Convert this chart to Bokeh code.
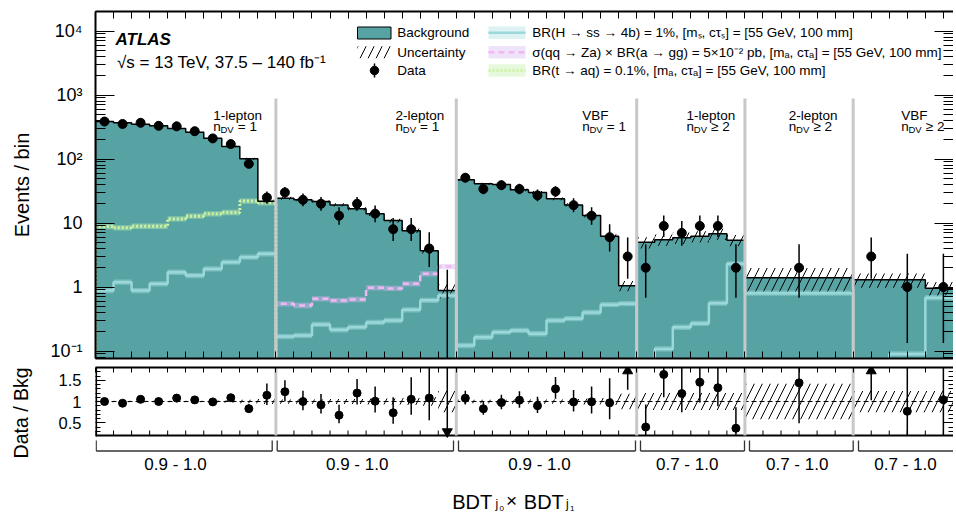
import math
from bokeh.plotting import figure
from bokeh.layouts import column
from bokeh.models import Range1d, LinearAxis, LogAxis, FixedTicker, LinearScale
from bokeh.embed import file_html
from bokeh.resources import INLINE
from bokeh.core.properties import value

# ---------------- data ----------------
region_names = ["1-lepton", "2-lepton", "VBF", "1-lepton", "2-lepton", "VBF"]
region_ndv = ["= 1", "= 1", "= 1", "≥ 2", "≥ 2", "≥ 2"]
region_bdt = ["0.9 - 1.0", "0.9 - 1.0", "0.9 - 1.0", "0.7 - 1.0", "0.7 - 1.0", "0.7 - 1.0"]
region_width = [10, 10, 10, 6, 6, 6]      # width of each region in tick units
region_nbins = [10, 10, 10, 6, 1, 3]      # bins per region

background = [
    385, 368, 350, 330, 300, 262, 212, 157, 101, 21.8,        # 1-lepton nDV=1
    24.4, 23.0, 21.7, 19.2, 16.7, 13.9, 10.9, 7.6, 3.7, 0.88,  # 2-lepton nDV=1
    47.3, 41.0, 40.0, 33.0, 30.0, 23.9, 19.2, 13.1, 6.2, 1.05, # VBF nDV=1
    5.0, 5.5, 5.9, 6.2, 6.8, 5.4,                              # 1-lepton nDV>=2
    1.39,                                                      # 2-lepton nDV>=2
    1.30, 1.30, 0.96,                                          # VBF nDV>=2
]
data_counts = [
    385, 353, 368, 330, 324, 272, 210, 171, 84, 25,
    30, 23, 20, 13, 20, 14, 8, 8, 4, 0,
    51, 34, 39, 34, 27, 31, 19, 13, 6, 3,
    2, 9, 7, 9, 9, 2,
    2,
    3, 1, 1,
]
bkg_rel_unc = [
    0.02, 0.02, 0.02, 0.02, 0.02, 0.02, 0.025, 0.03, 0.04, 0.06,
    0.05, 0.05, 0.05, 0.06, 0.06, 0.07, 0.07, 0.08, 0.10, 0.25,
    0.04, 0.04, 0.04, 0.05, 0.05, 0.05, 0.06, 0.07, 0.08, 0.18,
    0.20, 0.20, 0.20, 0.20, 0.20, 0.20,
    0.42,
    0.25, 0.25, 0.25,
]
sig_hss = [
    0.88, 1.19, 0.88, 1.12, 1.70, 1.51, 1.92, 2.44, 2.93, 3.3,
    0.168, 0.175, 0.26, 0.214, 0.236, 0.28, 0.30, 0.44, 0.62, 0.74,
    0.122, 0.164, 0.197, 0.21, 0.186, 0.30, 0.32, 0.40, 0.53, 0.55,
    0.05, 0.108, 0.235, 0.27, 0.56, 2.3,
    0.80,
    0.05, 0.09, 0.68,
]
sig_zagg_region = 1   # only present in 2-lepton nDV=1
sig_zagg = [0.546, 0.514, 0.653, 0.615, 0.638, 0.97, 0.95, 1.12, 1.61, 2.09]
sig_taq_region = 0    # only present in 1-lepton nDV=1
sig_taq = [8.8, 8.4, 8.9, 8.9, 11.6, 12.8, 13.9, 14.6, 22.0, 20.7]
sig_rel_unc = 0.10

y_major = [0.1, 1, 10, 100, 1000, 10000]
y_major_labels = {0.1: "10⁻¹", 1: "1", 10: "10", 100: "10²", 1000: "10³", 10000: "10⁴"}
r_major = [0.5, 1, 1.5]
r_major_labels = {0.5: "0.5", 1: "1", 1.5: "1.5"}

legend_left = ["Background", "Uncertainty", "Data"]
legend_right = [
    "BR(H → ss → 4b) = 1%, [mₛ, cτₛ] = [55 GeV, 100 mm]",
    "σ(qq → Za) × BR(a → gg) = 5×10⁻² pb, [mₐ, cτₐ] = [55 GeV, 100 mm]",
    "BR(t → aq) = 0.1%, [mₐ, cτₐ] = [55 GeV, 100 mm]",
]

# ---------------- layout / style ----------------
FONT = "Liberation Sans"
TEAL = "#57a3a4"
H_LINE, H_BAND = "#9ad8da", "#a8dfe0"
Z_LINE, Z_BAND = "#f2b6f2", "#d6b8f0"
T_LINE, T_BAND = "#cdf2a2", "#c2efa8"
SEP = "#c8c8c8"
HATCH = 16

PX_UNIT = 18.04
FRAME_X0 = 95
FRAME_W = 858
X_END = FRAME_W / PX_UNIT
MAIN_Y0, MAIN_Y1 = 11, 358
RATIO_Y0, RATIO_Y1 = 367, 435
PAGE_Y1 = 512
Y_MIN, Y_MAX = 0.0764, 20180
R_MIN, R_MAX = 0.2, 1.8
R_PX = (RATIO_Y1 - RATIO_Y0) / (R_MAX - R_MIN)
R_BOT = R_MIN - (PAGE_Y1 - RATIO_Y1) / R_PX    # lower panel frame reaches page bottom
FLOOR = 1e-3

# ---------------- derived bin geometry ----------------
bin_lo, bin_hi, region_start = [], [], []
s = 0.0
for w, n in zip(region_width, region_nbins):
    region_start.append(s)
    bw = w / n
    for k in range(n):
        bin_lo.append(s + k * bw)
        bin_hi.append(s + (k + 1) * bw)
    s += w
X_TOTAL = s
region_end = [a + w for a, w in zip(region_start, region_width)]
bin_mid = [(a + b) / 2 for a, b in zip(bin_lo, bin_hi)]
first_bin = [sum(region_nbins[:i]) for i in range(len(region_nbins))]
boundaries = region_end[:-1]
x_ticks = list(range(0, int(X_TOTAL) + 1))


def steps(lo, hi, vals, floor=FLOOR):
    xs, ys = [lo[0]], [floor]
    for a, b, v in zip(lo, hi, vals):
        v = max(v, floor)
        xs += [a, b]
        ys += [v, v]
    xs.append(hi[-1])
    ys.append(floor)
    return xs, ys


def pois_low(n):
    return n - math.sqrt(n - 0.25) if n > 0 else 0.0


def pois_high(n):
    return n + math.sqrt(n + 0.75) + 1.0


def hide_labels(ax):
    ax.major_label_text_font_size = "1px"
    ax.major_label_text_color = None
    ax.major_label_standoff = 0


def style_x(ax, tick_len):
    ax.ticker = FixedTicker(ticks=x_ticks, minor_ticks=[])
    ax.major_tick_in = tick_len
    ax.major_tick_out = 0
    ax.minor_tick_in = 0
    ax.minor_tick_out = 0
    hide_labels(ax)
    ax.axis_line_width = 2
    ax.major_tick_line_width = 1


def style_y(ax, ticker, major_in, minor_in, labels=None, font_size=None):
    ax.ticker = ticker
    ax.major_tick_in = major_in
    ax.major_tick_out = 0
    ax.minor_tick_in = minor_in
    ax.minor_tick_out = 0
    ax.major_tick_line_width = 1
    ax.minor_tick_line_width = 1
    ax.axis_line_width = 2
    if labels:
        ax.major_label_overrides = labels
        ax.major_label_text_font = FONT
        ax.major_label_text_font_size = font_size
        ax.major_label_text_color = "black"
    else:
        hide_labels(ax)


def axis_title(ax, text, size, standoff):
    ax.axis_label = text
    ax.axis_label_text_font = FONT
    ax.axis_label_text_font_size = size
    ax.axis_label_text_font_style = "normal"
    ax.axis_label_text_color = "black"
    ax.axis_label_standoff = standoff


def px_ranges(fig, y_top, y_bottom):
    fig.extra_x_ranges = {"px": Range1d(FRAME_X0, FRAME_X0 + FRAME_W)}
    fig.extra_y_ranges = {"px": Range1d(y_bottom, y_top)}
    fig.extra_x_scales = {"px": LinearScale()}
    fig.extra_y_scales = {"px": LinearScale()}


# ================= main panel =================
p = figure(frame_width=FRAME_W, frame_height=MAIN_Y1 - MAIN_Y0,
           x_range=Range1d(0, X_END), y_range=Range1d(Y_MIN, Y_MAX),
           y_axis_type="log", output_backend="svg", toolbar_location=None,
           min_border_left=FRAME_X0, min_border_right=0,
           min_border_top=MAIN_Y0, min_border_bottom=4,
           outline_line_color=None)
px_ranges(p, MAIN_Y0, MAIN_Y1)
p.grid.visible = False

main_minor = [m * 10.0 ** e for e in range(-2, 5) for m in range(2, 10)]
yl = p.yaxis[0]
style_y(yl, FixedTicker(ticks=y_major, minor_ticks=main_minor), 19, 10, y_major_labels, "18px")
yl.major_label_standoff = 13
axis_title(yl, "Events / bin", "20px", 14)
yr = LogAxis()
style_y(yr, FixedTicker(ticks=y_major, minor_ticks=main_minor), 19, 10)
yr.axis_line_color = None
p.add_layout(yr, "right")
style_x(p.xaxis[0], 7)
xt = LinearAxis()
style_x(xt, 7)
p.add_layout(xt, "above")

# background (single filled step polygon + outline)
bx, by = steps(bin_lo, bin_hi, background)
p.patch(bx, by, fill_color=TEAL, line_color=None)
# uncertainty hatch
p.quad(left=bin_lo, right=bin_hi,
       bottom=[b * (1 - u) for b, u in zip(background, bkg_rel_unc)],
       top=[b * (1 + u) for b, u in zip(background, bkg_rel_unc)],
       fill_color=None, line_color=None, hatch_pattern="/", hatch_color="black",
       hatch_weight=1, hatch_scale=HATCH)


def draw_signal(lo, hi, vals, line_color, band_color, dash, width):
    keep = [i for i, v in enumerate(vals) if v > 0]
    p.quad(left=[lo[i] for i in keep], right=[hi[i] for i in keep],
           bottom=[vals[i] / (1 + sig_rel_unc) for i in keep],
           top=[vals[i] * (1 + sig_rel_unc) for i in keep],
           fill_color=band_color, fill_alpha=0.45, line_color=None)
    xs, ys = steps(lo, hi, vals)
    p.line(xs, ys, line_color=line_color, line_width=width, line_dash=dash)


draw_signal(bin_lo, bin_hi, sig_hss, H_LINE, H_BAND, "solid", 2.5)
i0 = first_bin[sig_zagg_region]
draw_signal(bin_lo[i0:i0 + len(sig_zagg)], bin_hi[i0:i0 + len(sig_zagg)], sig_zagg,
            Z_LINE, Z_BAND, "6 4", 2.5)
i0 = first_bin[sig_taq_region]
draw_signal(bin_lo[i0:i0 + len(sig_taq)], bin_hi[i0:i0 + len(sig_taq)], sig_taq,
            T_LINE, T_BAND, "2 2", 3)

p.line(bx, by, line_color="black", line_width=1.5)

# region separators
p.segment(x0=boundaries, x1=boundaries, y0=[MAIN_Y1] * len(boundaries),
          y1=[98] * len(boundaries), y_range_name="px",
          line_color=SEP, line_width=3)

# data
nz = [i for i, n in enumerate(data_counts) if n > 0]
p.segment(x0=bin_mid, x1=bin_mid,
          y0=[max(pois_low(n), FLOOR) for n in data_counts],
          y1=[pois_high(n) for n in data_counts],
          line_color="black", line_width=1.5)
p.scatter([bin_mid[i] for i in nz], [data_counts[i] for i in nz],
          marker="circle", size=9, color="black")

# ---- legend (pixel coordinates) ----
kw = dict(x_range_name="px", y_range_name="px")
rows = [32.3, 51.7, 70.0]
p.quad(left=357, right=390.5, top=26.5, bottom=38.5, fill_color=TEAL,
       line_color="black", line_width=1, **kw)
p.quad(left=357, right=390.5, top=45.7, bottom=57.7, fill_color=None,
       line_color=None, hatch_pattern="/", hatch_color="black",
       hatch_weight=1, hatch_scale=HATCH, **kw)
p.segment(x0=374, x1=374, y0=63, y1=77, line_color="black", line_width=1.5, **kw)
p.scatter([374], [70], marker="circle", size=8.5, color="black", **kw)
p.text(x=[396.7] * 3, y=rows, text=legend_left, text_font=value(FONT),
       text_font_size=value("13.5px"), text_baseline="middle", text_align="left",
       text_color="black", **kw)
for y, lc, bc, dash, lw in zip(rows, [H_LINE, Z_LINE, T_LINE], [H_BAND, Z_BAND, T_BAND],
                               ["solid", "6 4", "2 2"], [2.5, 2.5, 3]):
    p.quad(left=488, right=525, top=y - 6.3, bottom=y + 6.3, fill_color=bc,
           fill_alpha=0.4, line_color=None, **kw)
    p.segment(x0=488, x1=525, y0=y, y1=y, line_color=lc, line_width=lw,
              line_dash=dash, **kw)
p.text(x=[531.7] * 3, y=rows, text=legend_right, text_font=value(FONT),
       text_font_size=value("13.5px"), text_baseline="middle", text_align="left",
       text_color="black", **kw)

# ATLAS label
p.text(x=[115], y=[38.5], text=["ATLAS"], text_font=value(FONT),
       text_font_size=value("17px"), text_font_style="bold italic",
       text_baseline="alphabetic", text_color="black", **kw)
p.text(x=[116.5], y=[61.7], text=["√s = 13 TeV, 37.5 – 140 fb⁻¹"], text_font=value(FONT),
       text_font_size=value("17px"), text_baseline="alphabetic", text_color="black", **kw)

# region labels
label_left_px = [212.7, 395, 581.7, 686, 788.3, 900.7]
p.text(x=label_left_px, y=[114.5] * 6, text=region_names, text_font=value(FONT),
       text_font_size=value("13.5px"), text_baseline="alphabetic", text_color="black", **kw)
p.text(x=label_left_px, y=[126] * 6, text=["n"] * 6, text_font=value(FONT),
       text_font_size=value("13.5px"), text_baseline="alphabetic", text_color="black", **kw)
p.text(x=[x + 7.3 for x in label_left_px], y=[128.8] * 6, text=["DV"] * 6,
       text_font=value(FONT), text_font_size=value("9.5px"), text_baseline="alphabetic",
       text_color="black", **kw)
p.text(x=[x + 24.6 for x in label_left_px], y=[126] * 6, text=region_ndv,
       text_font=value(FONT), text_font_size=value("13.5px"), text_baseline="alphabetic",
       text_color="black", **kw)

# ================= ratio panel (frame continues down to hold the category brackets) =================
r = figure(frame_width=FRAME_W, frame_height=PAGE_Y1 - RATIO_Y0,
           x_range=p.x_range, y_range=Range1d(R_BOT, R_MAX),
           output_backend="svg", toolbar_location=None,
           min_border_left=FRAME_X0, min_border_right=0,
           min_border_top=5, min_border_bottom=0, outline_line_color=None)
px_ranges(r, RATIO_Y0, PAGE_Y1)
r.grid.visible = False
r_minor = [0.3, 0.4, 0.6, 0.7, 0.8, 0.9, 1.1, 1.2, 1.3, 1.4, 1.6, 1.7]
rl = r.yaxis[0]
style_y(rl, FixedTicker(ticks=r_major, minor_ticks=r_minor), 10, 5, r_major_labels, "16.5px")
rl.major_label_standoff = 14
rl.axis_line_color = None
# leading no-break spaces lift the title so it sits where the reference has it
axis_title(rl, "\u00a0" * 10 + "Data / Bkg", "19.5px", 24)
rr = LinearAxis()
style_y(rr, FixedTicker(ticks=r_major, minor_ticks=r_minor), 10, 5)
rr.axis_line_color = None
r.add_layout(rr, "right")
r.xaxis.visible = False
rxt = LinearAxis()
style_x(rxt, 5)
r.add_layout(rxt, "above")

# frame pieces of the ratio panel (left edge, bottom edge, bottom ticks)
kr = dict(x_range_name="px", y_range_name="px")
r.segment(x0=[FRAME_X0 + 0.5], x1=[FRAME_X0 + 0.5], y0=[RATIO_Y0], y1=[RATIO_Y1 + 1],
          line_color="black", line_width=2.2, **kr)
r.segment(x0=[FRAME_X0], x1=[FRAME_X0 + FRAME_W], y0=[RATIO_Y1], y1=[RATIO_Y1],
          line_color="black", line_width=2, **kr)
r.segment(x0=x_ticks, x1=x_ticks, y0=[RATIO_Y1] * len(x_ticks),
          y1=[RATIO_Y1 - 5] * len(x_ticks), line_color="black", line_width=1,
          y_range_name="px")

r.quad(left=bin_lo, right=bin_hi, bottom=[1 - u for u in bkg_rel_unc],
       top=[1 + u for u in bkg_rel_unc], fill_color=None, line_color=None,
       hatch_pattern="/", hatch_color="black", hatch_weight=1, hatch_scale=HATCH)
r.segment(x0=[0], x1=[X_TOTAL], y0=[1], y1=[1], line_color="black",
          line_width=1.2, line_dash="5 3")
r.segment(x0=boundaries, x1=boundaries, y0=[R_MIN] * len(boundaries),
          y1=[R_MAX] * len(boundaries), line_color=SEP, line_width=3)

ratio = [n / b for n, b in zip(data_counts, background)]
r_lo = [max(pois_low(n) / b, R_MIN) for n, b in zip(data_counts, background)]
r_hi = [pois_high(n) / b for n, b in zip(data_counts, background)]
inside = [i for i, v in enumerate(ratio) if R_MIN <= v <= R_MAX]
above = [i for i, v in enumerate(ratio) if v > R_MAX]
below = [i for i, v in enumerate(ratio) if v < R_MIN]
r.segment(x0=[bin_mid[i] for i in inside], x1=[bin_mid[i] for i in inside],
          y0=[r_lo[i] for i in inside], y1=[r_hi[i] for i in inside],
          line_color="black", line_width=1.5)
r.scatter([bin_mid[i] for i in inside], [ratio[i] for i in inside],
          marker="circle", size=8, color="black")
r.segment(x0=[bin_mid[i] for i in above], x1=[bin_mid[i] for i in above],
          y0=[r_lo[i] for i in above], y1=[1.72] * len(above),
          line_color="black", line_width=1.5)
r.scatter([bin_mid[i] for i in above], [1.72] * len(above), marker="triangle",
          size=10, color="black")
r.segment(x0=[bin_mid[i] for i in below], x1=[bin_mid[i] for i in below],
          y0=[R_MIN] * len(below), y1=[r_hi[i] for i in below],
          line_color="black", line_width=1.5)
r.scatter([bin_mid[i] for i in below], [0.29] * len(below), marker="inverted_triangle",
          size=10, color="black")

# ---- category brackets, labels, x title (pixel coordinates) ----
bracket_left_px = [95.7, 276.7, 458, 640, 749, 858]
bracket_right_px = [271.7, 453, 635, 744, 852.7, 965]
bracket_label_px = [175, 356.7, 539, 686.7, 796.7, 905]
BR_Y, BR_TOP = 450.5, 440
r.segment(x0=bracket_left_px, x1=bracket_right_px, y0=[BR_Y] * 6, y1=[BR_Y] * 6,
          line_color="#333333", line_width=1.3, **kr)
r.segment(x0=bracket_left_px + bracket_right_px, x1=bracket_left_px + bracket_right_px,
          y0=[BR_Y] * 12, y1=[BR_TOP] * 12, line_color="#333333", line_width=1.3, **kr)
r.text(x=bracket_label_px, y=[463.5] * 6, text=region_bdt, text_font=value(FONT),
       text_font_size=value("17px"), text_align="center", text_baseline="middle",
       text_color="black", **kr)
# x-axis title: BDT_{j_0} x BDT_{j_1}
r.text(x=[451.7, 523.3], y=[501.5, 501.5], text=["BDT", "BDT"], text_font=value(FONT),
       text_font_size=value("20px"), text_baseline="alphabetic", text_color="black", **kr)
r.text(x=[505.5], y=[499.5], text=["×"], text_font=value(FONT),
       text_font_size=value("19px"), text_baseline="alphabetic", text_color="black", **kr)
r.text(x=[495.0, 565.5], y=[503.5, 503.5], text=["j", "j"], text_font=value(FONT),
       text_font_size=value("12px"), text_baseline="alphabetic", text_color="black", **kr)
r.text(x=[499.0, 569.5], y=[507.5, 507.5], text=["0", "1"], text_font=value(FONT),
       text_font_size=value("8px"), text_baseline="alphabetic", text_color="black", **kr)

layout = column(p, r, spacing=0)
open("out.html", "w").write(file_html(layout, INLINE))
